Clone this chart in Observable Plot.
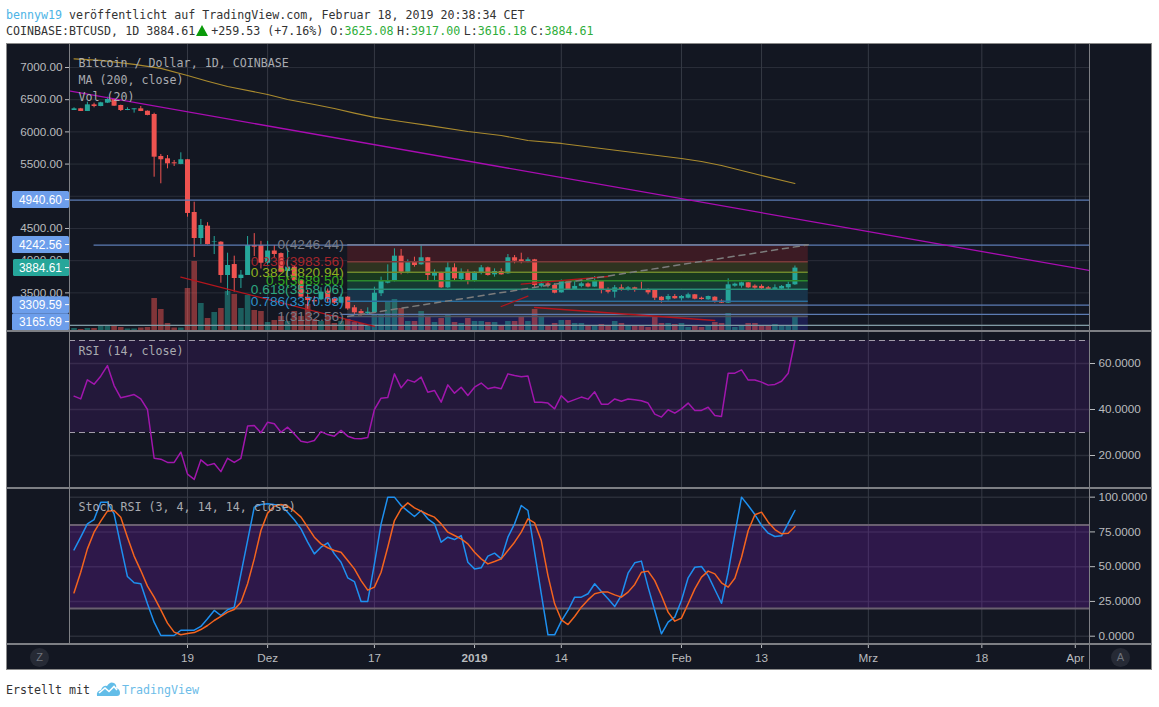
<!DOCTYPE html>
<html lang="de">
<head>
<meta charset="utf-8">
<script src="https://cdn.jsdelivr.net/npm/d3@7"></script>
<script src="https://cdn.jsdelivr.net/npm/@observablehq/plot@0.6"></script>
<style>
html,body{margin:0;padding:0;background:#fff;width:1159px;height:707px;overflow:hidden}
#page{position:relative;width:1159px;height:707px;font-family:"DejaVu Sans Mono",monospace;font-size:11.65px;color:#333}
#page svg{position:absolute;display:block;overflow:visible;max-width:none}
.row{position:absolute;left:6px;white-space:pre;line-height:16px}
.g{color:#2fae3a}
.b{color:#4db4e6}
.s{margin-left:3.6px}
#frame{position:absolute;left:6px;top:43px;width:1146px;height:627px;background:#131722;box-shadow:0 0 0 1px #8a8a8a inset}
.sep{position:absolute;background:#7d7f84}
.circ{position:absolute;width:19px;height:19px;border-radius:50%;background:#262a35;color:#6f737c;text-align:center;line-height:19px;font:11px/19px "Liberation Sans",sans-serif}
</style>
</head>
<body>
<div id="page">
  <div class="row" style="top:7px"><span class="b">bennyw19</span> veröffentlicht auf TradingView.com, Februar 18, 2019 20:38:34 CET</div>
  <div class="row" style="top:23px">COINBASE:BTCUSD, 1D 3884.61<span style="display:inline-block;width:0;height:0;margin:0 3px 0 1px;border-left:6px solid transparent;border-right:6px solid transparent;border-bottom:11px solid #0a9a0a;vertical-align:-1px"></span>+259.53 (+7.16%) O:<span class="g">3625.08</span><span class="s">H:</span><span class="g">3917.00</span><span class="s">L:</span><span class="g">3616.18</span><span class="s">C:</span><span class="g">3884.61</span></div>
  <div id="frame"></div>
  <div class="row" style="top:682px">Erstellt mit</div>
  <svg style="left:96px;top:680px" width="25" height="17" viewBox="0 0 25 17"><path d="M1 16 Q0 11 5 10 Q7 5 11 6 Q14 1 18 3 Q21 5 20 8 Q24 9 24 13 Q24 16 21 16 Z" fill="#62bde8"/><path d="M3 13 L9 8 L13 11.5 L18 6.5 L21 10" fill="none" stroke="#fff" stroke-width="1.6"/></svg>
  <div class="row" style="top:682px;left:122px;color:#6cbce8">TradingView</div>
</div>
<script>
// ---- daily candles 2 Nov 2018 ... 18 Feb 2019 (COINBASE:BTCUSD) ----
const firstDay = "2018-11-02";
const opens = [6332,6358,6317,6420,6394,6446,6503,6410,6332,6343,6358,6321,6270,5618,5582,5520,5494,5567,4748,4344,4536,4287,4287,3770,3940,3723,3770,4236,4236,3960,4150,4110,3832,3900,3690,3433,3380,3392,3526,3407,3340,3433,3268,3210,3175,3190,3486,3650,3677,4070,3820,3977,3936,4045,3760,3812,3578,3889,3708,3820,3680,3812,3889,3780,3832,3796,4045,4013,3987,4013,3602,3640,3615,3500,3677,3552,3600,3640,3590,3682,3552,3510,3578,3545,3578,3552,3552,3537,3433,3392,3444,3408,3417,3470,3417,3392,3433,3371,3340,3604,3604,3656,3604,3600,3578,3552,3558,3578,3625.08];
const highs = [6374,6365,6461,6446,6460,6539,6510,6415,6374,6360,6394,6325,6290,5649,5633,5556,5675,5570,4908,4640,4590,4375,4295,4116,4070,3847,4375,4420,4300,4300,4235,4120,4185,3910,3700,3537,3440,3580,3560,3430,3480,3440,3304,3242,3268,3588,3744,3935,4184,4174,4013,4054,4236,4050,3858,3820,3977,3951,3873,3858,3830,3925,3900,3873,3873,4096,4080,4116,4044,4020,3692,3666,3640,3702,3680,3676,3666,3656,3754,3692,3578,3614,3625,3599,3588,3666,3560,3545,3440,3474,3474,3459,3495,3475,3433,3450,3440,3392,3718,3650,3666,3660,3625,3625,3599,3625,3614,3666,3917];
const lows = [6332,6317,6317,6374,6390,6440,6395,6316,6330,6291,6315,6250,5296,5194,5426,5462,5490,4675,4049,4250,4245,4095,3650,3459,3510,3568,3770,4065,3870,3930,4030,3810,3740,3680,3420,3226,3290,3380,3340,3320,3330,3230,3148,3138,3165,3180,3443,3640,3670,3780,3795,3899,3930,3682,3692,3570,3570,3692,3692,3625,3666,3780,3760,3744,3775,3790,3951,3951,3966,3578,3578,3578,3485,3495,3545,3548,3578,3578,3585,3485,3485,3418,3526,3526,3510,3540,3470,3381,3340,3371,3400,3371,3407,3392,3387,3385,3340,3335,3335,3588,3573,3570,3552,3547,3537,3548,3550,3547,3616.18];
const closes = [6358,6317,6420,6394,6452,6503,6399,6332,6348,6358,6317,6255,5607,5567,5504,5504,5567,4733,4344,4546,4250,4295,3770,3925,3723,3775,4236,4210,3960,4150,4096,3820,3900,3690,3433,3380,3360,3511,3392,3340,3433,3250,3190,3175,3200,3495,3677,3677,4070,3820,3987,3925,4045,3770,3812,3578,3889,3718,3820,3680,3820,3889,3770,3832,3780,4045,3992,3987,4013,3615,3640,3615,3495,3677,3552,3600,3640,3590,3677,3537,3510,3578,3537,3578,3537,3545,3500,3417,3380,3444,3408,3444,3470,3402,3397,3444,3366,3340,3625,3635,3656,3578,3573,3563,3552,3578,3600,3630,3884.61];
const volumes = [1.8,1.2,1.8,1.8,3,3,3,2.4,1.5,1.5,2.1,2.4,19.8,13.2,4.8,2.1,2.1,25.8,42,16.8,7.8,11.4,13.8,24,22.2,13.8,21.6,12.6,12,5.4,6.6,9,6,12,9,16.2,7.2,6,9,4.8,6,7.2,5.4,4.8,3.6,10.2,10.2,18,19.2,13.8,6,6,12,8.4,5.4,7.8,10.2,5.4,4.8,7.8,6,6,5.4,5.4,3,6,6,9,6,13.2,8.4,3,4.8,6.6,6.6,4.8,4.8,3,3.6,4.2,3,6,4.8,3.6,3,3,2.4,9,4.8,4.8,4.2,4.8,2.4,3,2.4,3.6,5.4,4.8,10.8,2.4,3.6,4.8,4.8,3.6,3,4.2,3,3.6,9];
const rsiValues = [45.8,44.6,52.9,51,54.5,59.1,50.4,45.1,45.8,46.5,44.6,40,18.8,18.4,17,17,21.5,11.9,9.6,18.1,15.7,16.5,13,18.8,17,18.8,32.8,33,29.9,34.5,33.8,30.1,32.3,29.4,26.2,25.7,26.5,30.4,29.1,28.4,30.9,28.4,27.4,27.3,27.8,40,44.9,45.2,55.5,49.4,52.9,51.9,54.1,47.5,48.3,43.2,50.7,47.1,49.7,46.1,49.7,51.5,49,49.7,49,55.5,54.8,54.2,54.6,43.2,43.2,42.8,40.3,46,43.2,44.3,45.4,44.5,47.7,42.3,42.3,44.6,43.6,44.6,44.2,43.8,42.8,38,36.7,39.9,38.4,40.3,42.8,39.6,39.6,41,37.4,37,55.8,55.8,57.2,52.8,52.8,51.9,50.6,50.9,52.3,55.8,69.9];
const stochK = [62.1,71.2,80.8,83.9,96.4,96.4,88,65.2,42.9,38.4,37.7,23.3,10.1,0.5,0.5,0.5,4.3,4.3,4.3,7,12.5,18.5,14.9,19,20.9,44.8,68.8,92.8,94.7,95.2,94.7,94.5,89.2,83.7,77.2,67.6,59.2,64,67.2,59.2,53.2,42,39.3,25,25,52,80.8,100,100,94,89.9,86.1,90.4,84.4,80.8,67.6,71.2,69.5,72.4,53.2,48.4,49.2,57.6,59.7,55.6,71.2,80.8,94,90.4,60.4,30.5,1,1,10.8,18.5,28.1,28.1,30.5,37.7,32.1,26.9,21.3,29.3,45.3,52.8,54,35.3,18.5,1.7,10.1,13.7,25.7,42,49.6,50.1,43.6,33.6,23.7,46,73.6,100,94,87.5,79.6,74.1,71.7,72.2,81.3,90.4];
const stochD = [31.2,46,62.8,74.8,82.7,89.9,90.4,85.6,71.2,57.6,47.2,36,28.1,19,9.4,2.9,1,1.9,2.6,4.8,7.7,11.3,14.2,17.3,19.2,24.5,37.7,55.6,76,88.5,93.5,94.7,93.5,89.9,85.6,78.4,71.2,66.4,63.6,61.6,60.4,54.4,48.4,40,33.1,35.3,46,64,83.2,91.6,95.9,92.3,89.9,87.5,85.6,80.8,74.8,72.4,70,66.4,60.4,55.6,52,53.7,55.6,61.6,67.6,74.8,84.4,81.5,68.8,43.6,23.3,11.8,8.4,14.2,20.9,26.1,30.5,31.7,31.7,29.7,28.1,31.7,37.2,46,46.8,40,29.3,17.3,10.8,13,23.3,34,42.5,46.8,44.8,38.4,35.3,41.7,56.8,76,87.3,89.2,82,76.7,73.6,74.1,78.9];

// ---- overlays ----
const maDates = ["2018-11-02","2018-11-06","2018-11-11","2018-11-15","2018-11-19","2018-11-22","2018-11-25","2018-12-01","2018-12-04","2018-12-08","2018-12-11","2018-12-14","2018-12-17","2018-12-21","2018-12-25","2018-12-31","2019-01-05","2019-01-09","2019-01-14","2019-01-20","2019-01-26","2019-02-01","2019-02-04","2019-02-07","2019-02-13","2019-02-18"];
const maValues = [7135,7109,7047,6985,6876,6787,6705,6581,6503,6425,6363,6290,6224,6161,6100,6006,5944,5866,5820,5742,5664,5587,5540,5478,5323,5199];
const fibRatios = ["0","0.236","0.382","0.5","0.618","0.786","1"];
const fibLevels = [4246.44,3983.56,3820.94,3689.50,3558.06,3370.93,3132.56];
const fibRange = ["2018-12-13","2019-02-20"];
const gridTicks = [3000,3500,4000,4500,5000,5500,6000,6500,7000];
const priceLabels = [3500,4000,4500,5500,6000,6500,7000];
const levelValues = [4940.60,4242.56,3309.59,3165.69,2995];
const levelStarts = ["2018-11-01","2018-11-05","2019-01-07","2018-12-12","2018-11-01"];
const chipValues = [4940.60,4242.56,3884.61,3309.59,3165.69];
const redStarts = [["2018-11-18",3743],["2019-01-05",3288],["2019-01-10",3273],["2019-01-08",3635]];
const redEnds = [["2018-12-17",2978],["2019-01-09",3448],["2019-02-06",3071],["2019-01-21",3754]];
const fanLine = [["2018-11-01",6640],["2019-04-04",3832]];
const tickDates = ["2018-11-19","2018-12-01","2018-12-17","2019-01-01","2019-01-14","2019-02-01","2019-02-13","2019-03-01","2019-03-18","2019-04-01"];
const tickLabels = ["19","Dez","17","2019","14","Feb","13","Mrz","18","Apr"];

// ---- styles ----
const GRID = "#2a2e39", UP = "#26a69a", DOWN = "#ef5350", AXIS = "#b9bbbe", BAND = "#7a1cb8";
const SANS = '"Liberation Sans",Arial,sans-serif', MONO = '"DejaVu Sans Mono",monospace';
const fibText = ["#787b86","#a5262c","#8fb01e","#31a81f","#2da67f","#2d8fc9","#787b86"];
const fibLine = ["#6f7a95","#7c3a3a","#70892c","#2b8a2d","#2a8f77","#2b6f9e","#50545f"];
const fibBand = ["#3c1b24","#2f3320","#19391f","#163a32","#183349","#2b2d35","#1d1f50"];

const day = s => new Date(s + "T00:00:00Z");
const DAY = 864e5, t0 = +day("2018-11-19");
const xDomain = [new Date(t0 - 17.68 * DAY), new Date(t0 + 135.13 * DAY)];
const W = 1146, ML = 63, MR = 63;
const ticks = tickDates.map(day);

const bars = opens.map((o, i) => ({date: new Date(+day(firstDay) + i * DAY), o, h: highs[i], l: lows[i], c: closes[i], v: volumes[i], rsi: rsiValues[i], k: stochK[i], d: stochD[i]}));

const base = (height, marks, yDomain, extra = {}) => Plot.plot({
  width: W, height, marginLeft: ML, marginRight: MR, marginTop: 0, marginBottom: 0,
  x: {type: "utc", domain: xDomain, axis: null},
  y: {domain: yDomain, axis: null},
  style: {background: "transparent", color: AXIS, fontFamily: SANS, fontSize: "11.7px"},
  marks, ...extra
});
const gridX = () => Plot.ruleX(ticks, {stroke: "#363a45", strokeWidth: 1});
const legend = (text, dy) => Plot.text([text], {frameAnchor: "top-left", dx: 9, dy, fontFamily: MONO, fontSize: 11.65, fill: "#a9abb0", lineAnchor: "middle"});

// ---- price pane ----
const priceDomain = [2900, 7357];
const volToPrice = d3.scaleLinear([0, 42], [priceDomain[0], priceDomain[0] + 70 * 15.53]);
const fibBands = fibRatios.map((r, i) => ({top: fibLevels[i], bottom: i < 6 ? fibLevels[i + 1] : priceDomain[0], fill: fibBand[i]}));
const candles = (rows, color) => [
  Plot.ruleX(rows, {x: "date", y1: "l", y2: "h", stroke: color, strokeWidth: 1}),
  Plot.ruleX(rows, {x: "date", y1: "o", y2: "c", stroke: color, strokeWidth: 5})
];
const volume = (rows, color) => Plot.ruleX(rows, {x: "date", y1: () => volToPrice(0), y2: d => volToPrice(d.v), stroke: color, strokeWidth: 5.6, strokeOpacity: 0.5});
const up = bars.filter(b => b.c >= b.o), down = bars.filter(b => b.c < b.o);

const chipMark = (i, s) => {
  const g = d3.create("svg:g");
  let last = -Infinity;
  const placed = chipValues.map(v => { const y = Math.max(s.y(v), last + 17); last = y; return {v, y}; });
  for (const {v, y} of placed) {
    const teal = v === closes[closes.length - 1];
    g.append("rect").attr("x", teal ? 7 : 6).attr("y", y - 8.5).attr("width", teal ? 56 : 57).attr("height", 17).attr("rx", 1.5).attr("fill", teal ? UP : "#6d9eeb");
    g.append("line").attr("x1", 59).attr("x2", 63).attr("y1", y).attr("y2", y).attr("stroke", "#fff");
    g.append("text").attr("x", 34.5).attr("y", y).attr("text-anchor", "middle").attr("dy", "0.35em").attr("fill", "#fff").attr("font-size", 11.9).text(v.toFixed(2));
  }
  return g.node();
};

const price = base(287, [
  Plot.ruleY(gridTicks, {stroke: GRID, strokeWidth: 1}),
  gridX(),
  Plot.rect(fibBands, {x1: () => day(fibRange[0]), x2: () => day(fibRange[1]), y1: "bottom", y2: "top", fill: "fill"}),
  volume(up, UP), volume(down, DOWN),
  ...candles(up, UP), ...candles(down, DOWN),
  Plot.ruleY(levelValues, {x1: (d, i) => day(levelStarts[i]), x2: () => xDomain[1], stroke: (d, i) => i === 4 ? "#7f9aa4" : "#5c7cb4", strokeWidth: 1.2}),
  Plot.ruleY(fibLevels, {x1: () => day(fibRange[0]), x2: () => day(fibRange[1]), stroke: (d, i) => fibLine[i], strokeWidth: 1.5}),
  Plot.line(fanLine, {x: d => day(d[0]), y: d => d[1], stroke: "#a90cb2", strokeWidth: 1.3, clip: true}),
  Plot.line(maDates, {x: d => day(d), y: (d, i) => maValues[i], stroke: "#a98a2e", strokeWidth: 1.2}),
  ...redStarts.map((a, i) => Plot.line([a, redEnds[i]], {x: d => day(d[0]), y: d => d[1], stroke: "#b3161d", strokeWidth: 1.3})),
  Plot.line([[fibRange[0], fibLevels[6]], [fibRange[1], fibLevels[0]]], {x: d => day(d[0]), y: d => d[1], stroke: "#7c7c7c", strokeWidth: 1.5, strokeDasharray: "6,5"}),
  Plot.text(fibLevels, {x: () => day(fibRange[0]), y: d => d, text: (d, i) => `${fibRatios[i]}(${d.toFixed(2)})`, fill: (d, i) => fibText[i], textAnchor: "end", dx: -4, fontSize: 13.7, fontFamily: SANS}),
  legend("Bitcoin / Dollar, 1D, COINBASE", 19),
  legend("MA (200, close)", 36),
  legend("Vol (20)", 53),
  Plot.axisY({anchor: "left", ticks: priceLabels, tickFormat: d3.format(".2f"), tickSize: 4, tickPadding: 3, label: null}),
  chipMark
], priceDomain, {color: {type: "identity"}});
price.style.left = "6px"; price.style.top = "44px";

// ---- RSI pane ----
const rsi = base(155, [
  Plot.ruleY([20, 40, 60], {stroke: GRID, strokeWidth: 1.5}),
  gridX(),
  Plot.rect([0], {x1: () => xDomain[0], x2: () => xDomain[1], y1: () => 30, y2: () => 70, fill: BAND, fillOpacity: 0.16}),
  Plot.ruleY([30, 70], {stroke: "#a29caa", strokeWidth: 1.2, strokeDasharray: "6,4"}),
  Plot.line(bars, {x: "date", y: "rsi", stroke: "#a116ad", strokeWidth: 1.5}),
  legend("RSI (14, close)", 19),
  Plot.axisY({anchor: "right", ticks: [20, 40, 60], tickFormat: d3.format(".4f"), tickSize: 5, tickPadding: 4, label: null})
], [6.09, 73.48]);
rsi.style.left = "6px"; rsi.style.top = "332px";

// ---- Stoch RSI pane ----
const stoch = base(154, [
  Plot.ruleY([0, 25, 50, 75, 100], {stroke: GRID, strokeWidth: 1.5}),
  gridX(),
  Plot.rect([0], {x1: () => xDomain[0], x2: () => xDomain[1], y1: () => 20, y2: () => 80, fill: BAND, fillOpacity: 0.27}),
  Plot.ruleY([20, 80], {stroke: "#6a6070", strokeWidth: 2}),
  Plot.line(bars, {x: "date", y: "k", stroke: "#1e90f0", strokeWidth: 1.5}),
  Plot.line(bars, {x: "date", y: "d", stroke: "#f4641e", strokeWidth: 1.5}),
  legend("Stoch RSI (3, 4, 14, 14, close)", 18),
  Plot.axisY({anchor: "right", ticks: [0, 25, 50, 75, 100], tickFormat: d3.format(".4f"), tickSize: 5, tickPadding: 4, label: null})
], [-5.25, 105.5]);
stoch.style.left = "6px"; stoch.style.top = "489px";

// ---- time axis ----
const label = d => tickLabels[ticks.findIndex(t => +t === +d)];
const axisPlot = Plot.plot({
  width: W, height: 26, marginLeft: ML, marginRight: MR, marginTop: 0, marginBottom: 26,
  x: {type: "utc", domain: xDomain, axis: null},
  style: {background: "transparent", color: AXIS, fontFamily: SANS, fontSize: "11.7px"},
  marks: [
    Plot.axisX({anchor: "bottom", ticks: ticks.filter(d => label(d) !== "2019"), tickFormat: label, tickSize: 4, tickPadding: 5, label: null}),
    Plot.axisX({anchor: "bottom", ticks: ticks.filter(d => label(d) === "2019"), tickFormat: label, tickSize: 4, tickPadding: 5, label: null, fontWeight: "bold"})
  ]
});
axisPlot.style.left = "6px"; axisPlot.style.top = "644px";

const page = document.getElementById("page");
page.append(price, rsi, stoch, axisPlot);
const sep = (css) => { const d = document.createElement("div"); d.className = "sep"; d.style.cssText = css; page.append(d); };
sep("left:6px;top:330px;width:1146px;height:1.5px");
sep("left:6px;top:487px;width:1146px;height:1.5px");
sep("left:6px;top:643px;width:1146px;height:1.5px");
sep("left:69px;top:44px;width:1px;height:600px");
sep("left:1089px;top:44px;width:1px;height:626px");
for (const [c, l] of [["Z", 30], ["A", 1111]]) {
  const d = document.createElement("div"); d.className = "circ"; d.textContent = c;
  d.style.left = l + "px"; d.style.top = "648px"; page.append(d);
}
</script>
</body>
</html>
